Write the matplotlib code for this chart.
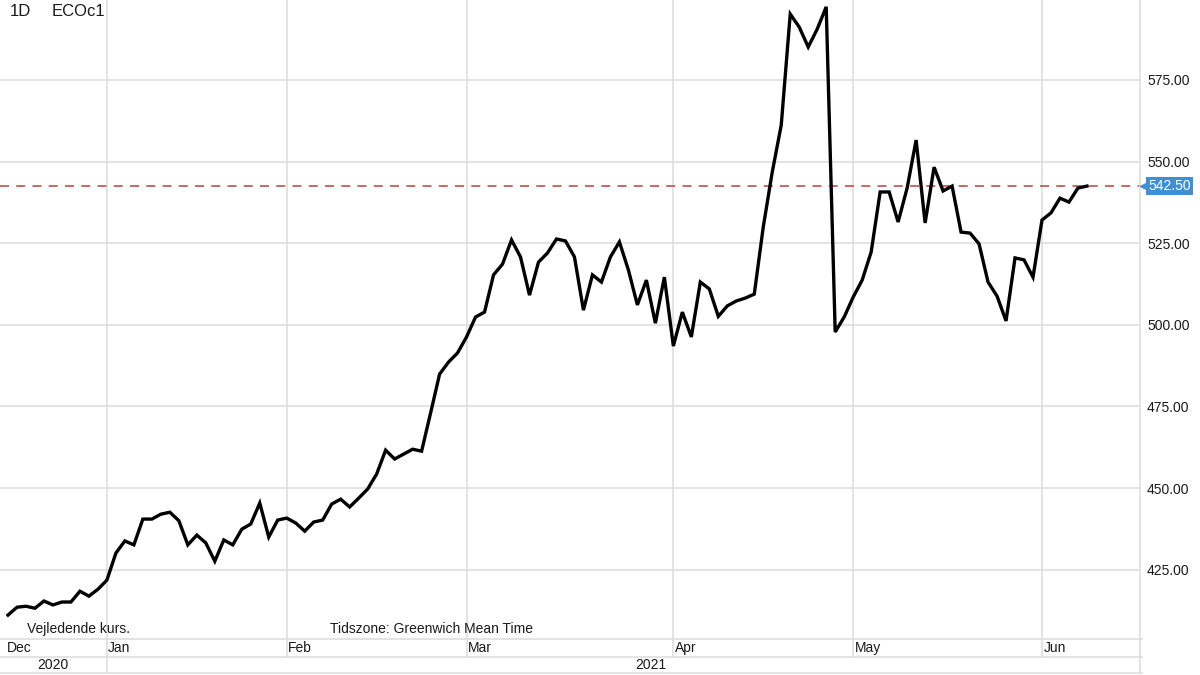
import matplotlib
matplotlib.use("Agg")
import matplotlib.pyplot as plt
import numpy as np

plt.rcParams['font.family'] = ['Liberation Sans', 'DejaVu Sans']

# ---- data (daily closes, ECOc1) ----
prices = [
    411.1, 413.5, 413.8, 413.2, 415.4, 414.2, 415.1, 415.1, 418.4, 416.9,
    419.0, 421.8, 430.1, 433.8, 432.6, 440.5, 440.5, 442.0, 442.6, 440.0,
    432.6, 435.6, 433.2, 427.6, 434.1, 432.6, 437.4, 439.0, 445.4, 435.0,
    440.2, 440.8, 439.3, 436.8, 439.6, 440.2, 445.1, 446.6, 444.2, 446.9,
    449.7, 454.3, 461.6, 458.9, 460.4, 461.9, 461.3, 473.0, 484.9, 488.6,
    491.4, 496.3, 502.4, 503.9, 515.3, 518.6, 526.0, 520.8, 509.1, 519.2,
    522.0, 526.3, 525.7, 520.8, 504.5, 515.3, 513.1, 520.8, 525.4, 516.8,
    506.1, 513.7, 500.5, 514.6, 493.5, 503.9, 496.3, 513.1, 511.0, 502.6,
    505.8, 507.3, 508.2, 509.4, 530.0, 546.8, 561.2, 595.2, 591.2, 585.1,
    590.6, 597.4, 497.8, 502.4, 508.5, 513.7, 522.3, 540.7, 540.7, 531.5,
    541.9, 556.6, 531.2, 548.3, 541.0, 542.5, 528.4, 528.1, 524.8, 513.1,
    508.8, 501.2, 520.5, 519.9, 514.6, 532.1, 534.3, 538.8, 537.6, 541.9,
    542.5,
]
month_labels = ["Dec", "Jan", "Feb", "Mar", "Apr", "May", "Jun"]
month_start_idx = [None, 11, 31, 51, 74, 94, 115]
year_labels = ["2020", "2021"]
y_ticks = [425, 450, 475, 500, 525, 550, 575]
last_price = prices[-1]

W, H = 1200, 675
fig = plt.figure(figsize=(12, 6.75), dpi=100)

grid_c = "#dedede"
text_c = "#1a1a1a"

# main plotting area: x 0..1140 px, y 0..618 px
plot_right = 1140
plot_bottom = 618
ax = fig.add_axes([0, 1 - plot_bottom / H, plot_right / W, plot_bottom / H])
x = np.arange(len(prices))
ax.set_xlim(-0.89, 125.9)
ax.set_ylim(410.2, 599.5)
for s in ax.spines.values():
    s.set_visible(False)

ax.set_yticks(y_ticks)
ax.yaxis.tick_right()
ax.set_yticklabels([f"{v:.2f}" for v in y_ticks], fontsize=10, color=text_c)
ax.tick_params(axis='y', length=0, pad=5)
ax.set_xticks([])
for v in y_ticks:
    ax.axhline(v, color=grid_c, lw=1.2, zorder=1)
for i in month_start_idx[1:]:
    ax.axvline(i, color=grid_c, lw=1.2, zorder=1)

ax.plot(x, prices, color="black", lw=2.4, zorder=3, solid_joinstyle='miter')
ax.axhline(last_price, color="#cc5b5b", lw=1.3, ls=(0, (5, 4)), zorder=2)

# price tag
tag_c = "#3e8fd6"
ax.plot([1.0035], [last_price], marker='<', ms=6, color=tag_c,
        transform=ax.get_yaxis_transform(), clip_on=False, zorder=5)
ax.text(1.0075, last_price, f"{last_price:.2f}", transform=ax.get_yaxis_transform(),
        ha='left', va='center', fontsize=10, color='white', zorder=6,
        bbox=dict(boxstyle='square,pad=0.15', fc=tag_c, ec='none'))

# top-left labels
fig.text(10 / W, 1 - 12 / H, "1D", fontsize=12, color=text_c, va='center')
fig.text(52 / W, 1 - 12 / H, "ECOc1", fontsize=12, color=text_c, va='center')

# bottom time axis area (pixel coordinates)
axb = fig.add_axes([0, 0, plot_right / W + 3 / W, (H - plot_bottom) / H])
axb.set_xlim(-0.89, 125.9 + 3 / 9.0)
axb.set_ylim(H, plot_bottom)
axb.axis('off')
for yy in (639, 657, 673):
    axb.axhline(yy, color=grid_c, lw=1.2)
axb.plot([125.9, 125.9], [plot_bottom, 673], color=grid_c, lw=1.2)
for k, i in enumerate(month_start_idx):
    if i is None:
        continue
    y_end = 673 if k == 1 else 657
    axb.plot([i, i], [plot_bottom, y_end], color=grid_c, lw=1.2)
for lab, i in zip(month_labels, month_start_idx):
    xi = -0.1 if i is None else i + 0.15
    axb.text(xi, 648, lab, fontsize=10, color=text_c, ha='left', va='center')
axb.text(5.0, 665, year_labels[0], fontsize=10, color=text_c, ha='center', va='center')
axb.text(71.5, 665, year_labels[1], fontsize=10, color=text_c, ha='center', va='center')
axb.text(2.1, 629, "Vejledende kurs.", fontsize=10, color=text_c, ha='left', va='center')
axb.text(35.8, 629, "Tidszone: Greenwich Mean Time", fontsize=10, color=text_c, ha='left', va='center')

# right border of plot
ax.plot([1, 1], [0, 1], transform=ax.transAxes, color=grid_c, lw=1.2, clip_on=False)

fig.savefig("out.png", dpi=100, facecolor="white")
